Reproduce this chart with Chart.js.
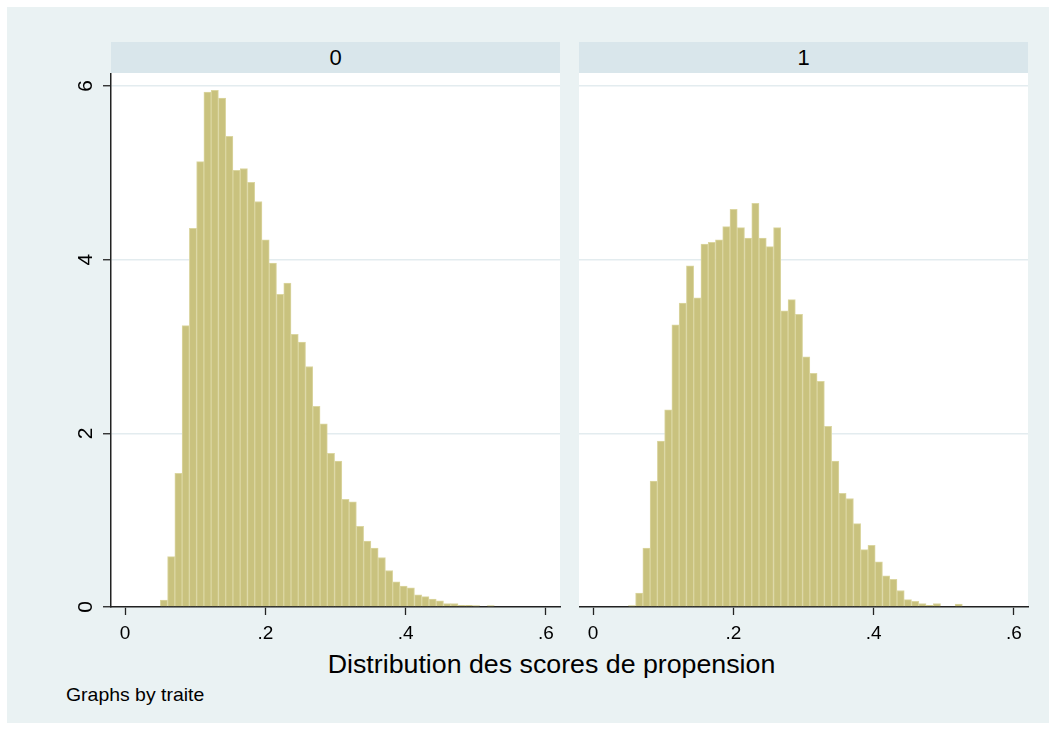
<!DOCTYPE html>
<html>
<head>
<meta charset="utf-8">
<script src="https://cdn.jsdelivr.net/npm/chart.js@4.4.1/dist/chart.umd.min.js"></script>
<style>
  body { margin: 0; width: 1052px; height: 729px; background: #fff; position: relative; overflow: hidden;
         font-family: "Liberation Sans", Arial, sans-serif; }
  #fond { position: absolute; left: 7px; top: 7px; width: 1042px; height: 716px; background: #eaf2f3; }
  .bande { position: absolute; top: 42px; height: 31px; background: #d9e6eb; color: #000;
           font-size: 22px; line-height: 31px; text-align: center; }
  canvas { position: absolute; }
  #titreX { position: absolute; left: 0; width: 1103px; top: 650px; text-align: center; font-size: 25px;
            transform: scaleX(1.07); transform-origin: 551px 0; }
  #note { position: absolute; left: 66px; top: 684px; font-size: 18.5px; transform: scaleX(1.05); transform-origin: 0 0; }
</style>
</head>
<body>
<div id="fond"></div>
<div class="bande" style="left:111px;width:449px;">0</div>
<div class="bande" style="left:579px;width:449px;">1</div>
<canvas id="panneau0" width="515" height="575" style="left:50px;top:73px;"></canvas>
<canvas id="panneau1" width="454" height="575" style="left:579px;top:73px;"></canvas>
<div id="titreX">Distribution des scores de propension</div>
<div id="note">Graphs by traite</div>

<script>
/* donnees (densite par classe) */

const binStart = 0.0503;
const binWidth = 0.01035;

// traite = 0
const densite0 = [0.08, 0.58, 1.54, 3.24, 4.36, 5.13, 5.93, 5.95, 5.86, 5.42,
                  5.03, 5.05, 4.89, 4.67, 4.23, 3.96, 3.60, 3.73, 3.14, 3.05,
                  2.77, 2.31, 2.11, 1.77, 1.68, 1.24, 1.21, 0.93, 0.76, 0.68,
                  0.57, 0.42, 0.29, 0.24, 0.22, 0.14, 0.12, 0.09, 0.07, 0.04,
                  0.04, 0.02, 0.02, 0.015, 0, 0.015];

// traite = 1
const densite1 = [0.015, 0.16, 0.68, 1.45, 1.91, 2.27, 3.25, 3.50, 3.93, 3.56,
                  4.18, 4.20, 4.23, 4.38, 4.58, 4.37, 4.25, 4.65, 4.25, 4.15,
                  4.37, 3.41, 3.54, 3.37, 2.88, 2.69, 2.60, 2.08, 1.68, 1.31,
                  1.25, 0.96, 0.66, 0.71, 0.52, 0.36, 0.32, 0.19, 0.085, 0.065,
                  0.04, 0.02, 0.04, 0, 0, 0.035];

const xTickValues = [0, 0.2, 0.4, 0.6];
const xTickLabels = ['0', '.2', '.4', '.6'];
const yTickValues = [0, 2, 4, 6];
const yTickLabels = ['0', '2', '4', '6'];


/* graphiques */

Chart.defaults.font.family = '"Liberation Sans", Arial, sans-serif';
Chart.defaults.color = '#000';

const policeTicks = { size: 19 };

function centres(valeurs) {
    return valeurs.map(function(v, i) {
        return { x: binStart + binWidth * (i + 0.5), y: v };
    });
}

// fond blanc de la zone de trace
const fondBlanc = {
    id: 'fondBlanc',
    beforeDraw(chart) {
        const a = chart.chartArea;
        chart.ctx.save();
        chart.ctx.fillStyle = '#fff';
        chart.ctx.fillRect(a.left, a.top, a.right - a.left, a.bottom - a.top);
        chart.ctx.restore();
    }
};

// etiquettes de l'axe y tournees a 90 degres (style Stata)
const etiquettesY = {
    id: 'etiquettesY',
    afterDraw(chart) {
        const y = chart.scales.y;
        const ctx = chart.ctx;
        ctx.save();
        ctx.fillStyle = '#000';
        ctx.font = '21px "Liberation Sans", Arial, sans-serif';
        ctx.textAlign = 'center';
        ctx.textBaseline = 'middle';
        y.ticks.forEach(function(t, i) {
            const py = y.getPixelForValue(t.value);
            ctx.save();
            ctx.translate(chart.chartArea.left - 25, py);
            ctx.rotate(-Math.PI / 2);
            ctx.fillText(yTickLabels[i], 0, 0);
            ctx.restore();
        });
        ctx.restore();
    }
};

function options(avecAxeY) {
    return {
        responsive: false,
        animation: false,
        events: [],
        layout: { padding: { top: 0, right: 5, bottom: 0, left: 0 } },
        plugins: { legend: { display: false }, tooltip: { enabled: false }, title: { display: false } },
        scales: {
            x: {
                type: 'linear',
                offset: false,
                min: -0.02,
                max: 0.62,
                afterBuildTicks: function(scale) {
                    scale.ticks = xTickValues.map(function(v) { return { value: v }; });
                },
                afterFit: function(scale) { scale.height = 41; },
                ticks: {
                    autoSkip: false,
                    maxRotation: 0,
                    padding: 7,
                    font: policeTicks,
                    callback: function(value, index) { return xTickLabels[index]; }
                },
                grid: { offset: false, drawOnChartArea: false, drawTicks: true, tickLength: 8, tickColor: '#222', tickWidth: 1.3 },
                border: { display: true, color: '#222', width: 1.5 }
            },
            y: {
                min: 0,
                max: 6.15,
                afterBuildTicks: function(scale) {
                    scale.ticks = yTickValues.map(function(v) { return { value: v }; });
                },
                afterFit: function(scale) { scale.width = avecAxeY ? 61 : 0; },
                ticks: { display: false },
                grid: {
                    color: '#e3ecef',
                    lineWidth: 1.5,
                    drawTicks: avecAxeY,
                    tickLength: 8,
                    tickColor: '#222',
                    tickWidth: 1.3
                },
                border: { display: avecAxeY, color: '#222', width: 1.5 }
            }
        }
    };
}

function jeu(valeurs) {
    return {
        data: centres(valeurs),
        backgroundColor: '#c9c27e',
        borderColor: '#dbd6a1',
        borderWidth: 1,
        barPercentage: 1,
        categoryPercentage: 1,
        grouped: false
    };
}

new Chart(document.getElementById('panneau0'), {
    type: 'bar',
    data: { datasets: [jeu(densite0)] },
    options: options(true),
    plugins: [fondBlanc, etiquettesY]
});

new Chart(document.getElementById('panneau1'), {
    type: 'bar',
    data: { datasets: [jeu(densite1)] },
    options: options(false),
    plugins: [fondBlanc]
});
</script>
</body>
</html>
